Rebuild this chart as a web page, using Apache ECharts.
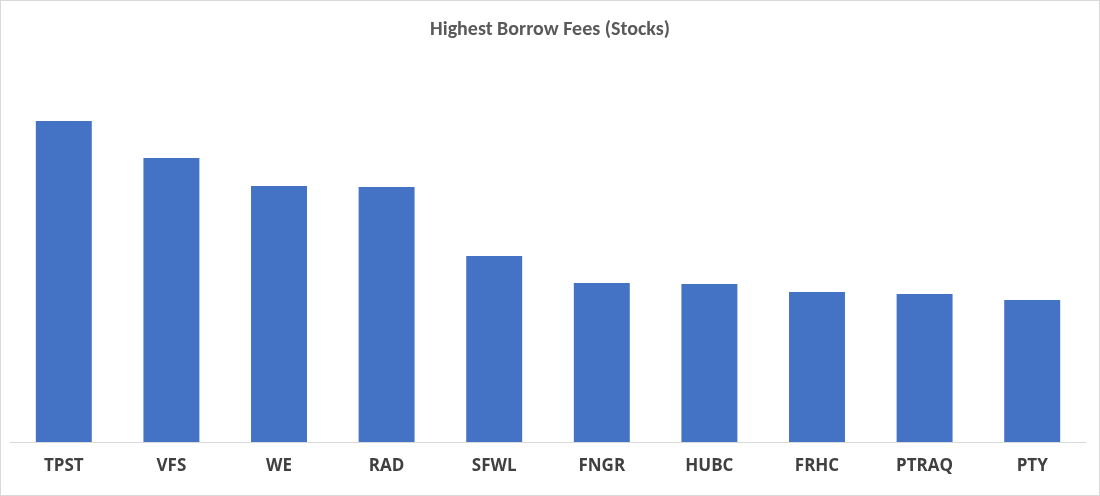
<!DOCTYPE html>
<html>
<head>
<meta charset="utf-8">
<script src="https://cdn.jsdelivr.net/npm/echarts@6/dist/echarts.min.js"></script>
<style>
  html, body { margin: 0; padding: 0; background: #fff; }
  #chart { width: 1098px; height: 494px; border: 1px solid #d9d9d9; }
</style>
</head>
<body>
<div id="chart"></div>
<script>
// relative fee levels (no axis labels in source)
const tickers = ['TPST', 'VFS', 'WE', 'RAD', 'SFWL', 'FNGR', 'HUBC', 'FRHC', 'PTRAQ', 'PTY'];
const fees = [321, 284, 256, 255, 186, 159, 158, 150, 148, 142];

const chart = echarts.init(document.getElementById('chart'));
chart.setOption({
    title: {
        text: 'Highest Borrow Fees (Stocks)',
        left: 'center',
        top: 14,
        textStyle: { fontFamily: 'Calibri, Carlito, "Open Sans", sans-serif', fontSize: 20, fontWeight: 'bold', color: '#595959' }
    },
    grid: { left: 9, right: 13, top: 60, bottom: 53 },
    xAxis: {
        type: 'category',
        data: tickers,
        axisLine: { lineStyle: { color: '#d9d9d9' } },
        axisTick: { show: false },
        axisLabel: { fontFamily: '"Open Sans", sans-serif', fontSize: 17, fontWeight: 'bold', color: '#404040', margin: 16 }
    },
    yAxis: {
        type: 'value', min: 0, max: 381,
        show: false, splitLine: { show: false }
    },
    series: [{
        type: 'bar',
        data: fees,
        barWidth: '52%',
        itemStyle: { color: '#4472c4' }
    }]
});
</script>
</body>
</html>
